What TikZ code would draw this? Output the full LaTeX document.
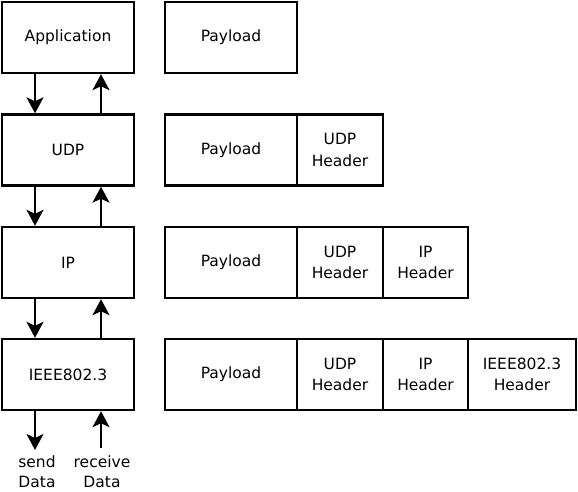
\documentclass[tikz,border=0pt]{standalone}
\usepackage{fontspec}
\setmainfont{DejaVu Sans}
\usetikzlibrary{arrows.meta}
\begin{document}
\begin{tikzpicture}[x=1pt,y=-1pt,
  box/.style={draw,line width=2.4pt,minimum height=71pt,inner sep=0pt,align=center,
    font=\fontsize{15.5}{21.5}\selectfont},
  lay/.style={box,minimum width=132pt},
  pay/.style={box,minimum width=132pt},
  hdr/.style={box},
  lbl/.style={inner sep=0pt,align=center,font=\fontsize{15.5}{20}\selectfont},
  arr/.style={line width=2.2pt,-{Stealth[length=16pt,width=17pt,inset=4pt]}}]
\useasboundingbox (0,0) rectangle (578,491);
% layer boxes
\node[lay] (app) at (68,37.5) {Application};
\node[lay] (udp) at (68,150) {UDP};
\node[lay] (ip) at (68,262.5) {IP};
\node[lay] (eth) at (68,374.5) {IEEE802.3};
% packet boxes
\node[pay] (p1) at (231,37.5) {Payload};
\node[pay] (p2) at (231,150) {Payload};
\node[hdr,minimum width=86pt] (u2) at (340,150) {UDP\\Header};
\node[pay] (p3) at (231,262.5) {Payload};
\node[hdr,minimum width=86pt] (u3) at (340,262.5) {UDP\\Header};
\node[hdr,minimum width=85pt] (i3) at (425.5,262.5) {IP\\Header};
\node[pay] (p4) at (231,374.5) {Payload};
\node[hdr,minimum width=86pt] (u4) at (340,374.5) {UDP\\Header};
\node[hdr,minimum width=85pt] (i4) at (425.5,374.5) {IP\\Header};
\node[hdr,minimum width=108pt] (e4) at (522,374.5) {IEEE802.3\\Header};
% bottom labels
\node[lbl] (send) at (37,471.5) {send\\Data};
\node[lbl] (recv) at (102,471.5) {receive\\Data};
% arrows
\draw[arr] ([xshift=-33pt]app.south) -- ([xshift=-33pt]udp.north);
\draw[arr] ([xshift=33pt]udp.north) -- ([xshift=33pt]app.south);
\draw[arr] ([xshift=-33pt]udp.south) -- ([xshift=-33pt]ip.north);
\draw[arr] ([xshift=33pt]ip.north) -- ([xshift=33pt]udp.south);
\draw[arr] ([xshift=-33pt]ip.south) -- ([xshift=-33pt]eth.north);
\draw[arr] ([xshift=33pt]eth.north) -- ([xshift=33pt]ip.south);
\coordinate (sendtop) at ([xshift=-33pt]eth.south);
\coordinate (recvtop) at ([xshift=33pt]eth.south);
\coordinate (sendtip) at (35,450);
\coordinate (recvtail) at (101,448);
\draw[arr] (sendtop) -- (sendtip);
\draw[arr] (recvtail) -- (recvtop);
\end{tikzpicture}
\end{document}
